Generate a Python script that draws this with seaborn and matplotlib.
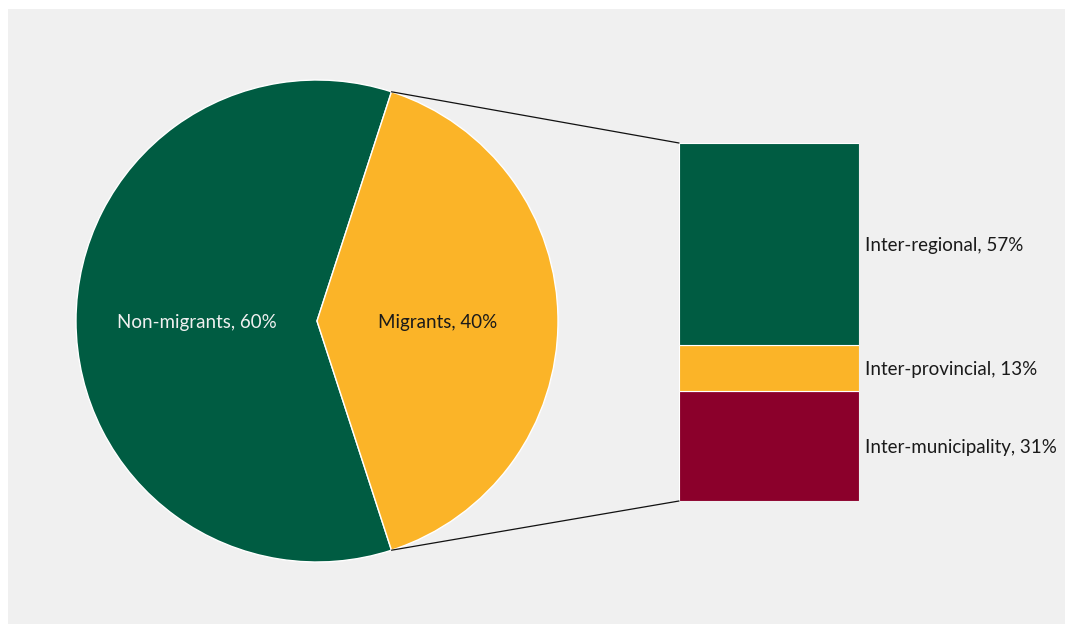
import numpy as np
import matplotlib
matplotlib.use("Agg")
import matplotlib.pyplot as plt
from matplotlib.patches import ConnectionPatch
import seaborn as sns

# Population split and breakdown of migrants
pie_labels = ["Non-migrants", "Migrants"]
pie_values = [60, 40]
bar_labels = ["Inter-municipality", "Inter-provincial", "Inter-regional"]
bar_values = [31, 13, 57]

GREEN = "#005c42"
YELLOW = "#fbb428"
MAROON = "#8b002b"

sns.set_theme(style="white")
plt.rcParams["font.family"] = ["Lato", "DejaVu Sans"]

W, H = 1073, 632
fig = plt.figure(figsize=(W / 100, H / 100), dpi=100, facecolor="white")

def px_axes(x0, y0, x1, y1, **kw):
    """Axes placed by pixel box (top-left origin)."""
    return fig.add_axes([x0 / W, 1 - y1 / H, (x1 - x0) / W, (y1 - y0) / H], **kw)

# grey panel
bg = px_axes(8, 9, 1065, 624)
bg.set_facecolor("#f0f0f0")
bg.set_xticks([]); bg.set_yticks([])
for s in bg.spines.values():
    s.set_visible(False)

# pie
cx, cy, r = 317, 321, 241
pax = px_axes(cx - r, cy - r, cx + r, cy + r)
pax.set_facecolor("none")
names = iter(pie_labels)
wedges, _, autotexts = pax.pie(
    pie_values, colors=[GREEN, YELLOW], startangle=72, counterclock=True,
    radius=1, autopct=lambda p: f"{next(names)}, {p:.0f}%", pctdistance=0.5,
    wedgeprops=dict(edgecolor="white", linewidth=1.0),
    textprops=dict(fontsize=13.5),
)
autotexts[0].set_color("#f0f0f0")
autotexts[1].set_color("#1a1a1a")
for t in autotexts:
    t.set_va("center_baseline")
pax.set_xlim(-1, 1); pax.set_ylim(-1, 1)
pax.set_aspect("equal")
pax.axis("off")

# stacked bar of migrant types
total = sum(bar_values)
bax = px_axes(679, 143, 859, 501)
bax.set_facecolor("none")
bottom = 0
for lab, val, col in zip(bar_labels, bar_values, [MAROON, YELLOW, GREEN]):
    bax.bar(0.5, val, width=1.0, bottom=bottom, color=col,
            edgecolor="white", linewidth=0.8)
    bax.annotate(f"{lab}, {val}%", xy=(1, bottom + val / 2), xytext=(4.5, 0),
                 textcoords="offset points", ha="left", va="center_baseline",
                 fontsize=13.5, color="#1a1a1a")
    bottom += val
bax.set_xlim(0, 1); bax.set_ylim(0, total)
bax.axis("off")

# connectors from the migrants wedge to the bar
theta = np.deg2rad(72)
for sign, ybar in [(1, total), (-1, 0)]:
    con = ConnectionPatch(xyA=(np.cos(theta), sign * np.sin(theta)), coordsA=pax.transData,
                          xyB=(0, ybar), coordsB=bax.transData,
                          color="#111111", linewidth=0.9)
    fig.add_artist(con)

fig.savefig("out.png", dpi=100, facecolor="white")
